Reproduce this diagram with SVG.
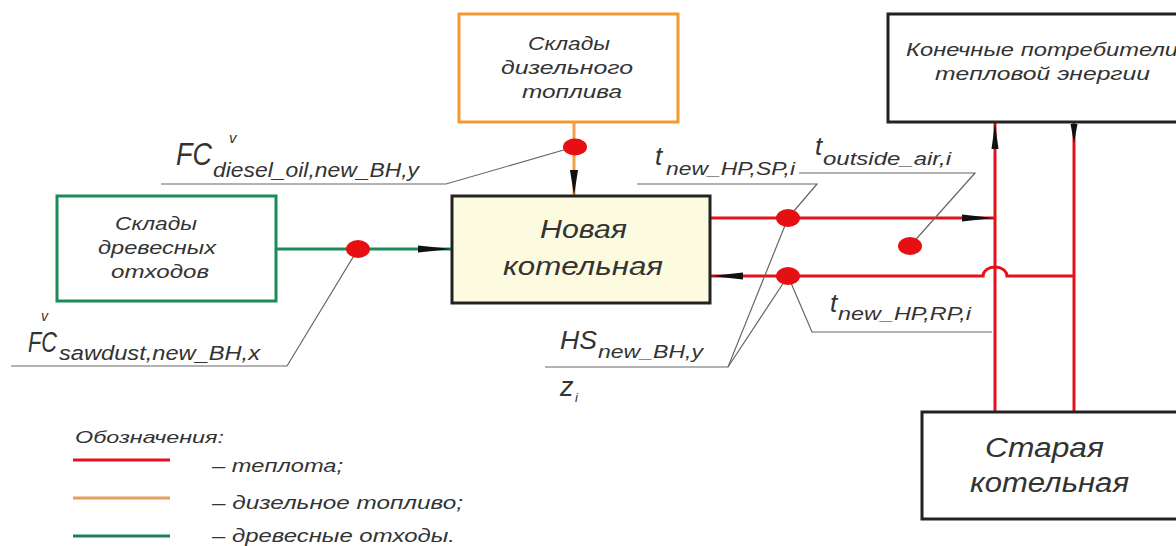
<svg xmlns="http://www.w3.org/2000/svg" width="1176" height="546" viewBox="0 0 1176 546">
<style>
.lbl{font-family:"Liberation Sans",Arial,sans-serif;font-style:italic;fill:#333}
.box{fill:#fff;stroke:#222;stroke-width:3}
.heat{stroke:#e3121b;stroke-width:3;fill:none}
.lead{stroke:#666;stroke-width:1.2;fill:none}
.dot{fill:#e60f14}
.ah{fill:#111}
</style>
<rect x="0" y="0" width="1176" height="546" fill="#fff"/>
<g id="connectors">
  <line x1="574" y1="122" x2="574" y2="196" stroke="#f0a04a" stroke-width="3"/>
  <line x1="276" y1="249" x2="452" y2="249" stroke="#1d8a5c" stroke-width="3"/>
  <line class="heat" x1="710" y1="218" x2="995" y2="218"/>
  <line class="heat" x1="995" y1="122" x2="995" y2="412"/>
  <line class="heat" x1="1074" y1="122" x2="1074" y2="412"/>
  <path class="heat" d="M1074,276 H1007 A12,9 0 0 0 983,276 H710"/>
  <polygon class="ah" points="574,196 570,170 578,170"/>
  <polygon class="ah" points="452,249 418,245.5 418,252.5"/>
  <polygon class="ah" points="994,218 962,214.5 962,221.5"/>
  <polygon class="ah" points="711,276 743,272.5 743,279.5"/>
  <polygon class="ah" points="995,123 991.5,149 998.5,149"/>
  <polygon class="ah" points="1074,143 1070.5,124 1077.5,124"/>
</g>
<g id="leaders">
  <polyline class="lead" points="161,184 446,184 574,147"/>
  <polyline class="lead" points="11,366 287,366 358,249"/>
  <polyline class="lead" points="637,184 817,184 788,218"/>
  <polyline class="lead" points="799,173 975,173 910,246"/>
  <polyline class="lead" points="545,367 728,367 788,218"/>
  <line class="lead" x1="728" y1="367" x2="788" y2="276"/>
  <polyline class="lead" points="788,276 812,332 992,332"/>
</g>
<g id="dots">
  <ellipse class="dot" cx="575" cy="147" rx="12" ry="8.5"/>
  <ellipse class="dot" cx="358" cy="249" rx="12" ry="9"/>
  <ellipse class="dot" cx="788" cy="218" rx="12" ry="9"/>
  <ellipse class="dot" cx="788" cy="276" rx="12" ry="9"/>
  <ellipse class="dot" cx="910" cy="246" rx="12" ry="9"/>
</g>
<g id="node-diesel-store">
  <rect x="459" y="14" width="219" height="108" fill="#fff" stroke="#f39a2e" stroke-width="3"/>
  <text class="lbl" x="528" y="50" font-size="19" textLength="82" lengthAdjust="spacingAndGlyphs">Склады</text>
  <text class="lbl" x="501" y="74" font-size="19" textLength="132" lengthAdjust="spacingAndGlyphs">дизельного</text>
  <text class="lbl" x="522" y="98" font-size="19" textLength="100" lengthAdjust="spacingAndGlyphs">топлива</text>
</g>
<g id="node-wood-store">
  <rect x="57" y="196" width="219" height="105" fill="#fff" stroke="#1d8a5c" stroke-width="3"/>
  <text class="lbl" x="115" y="230" font-size="19" textLength="82" lengthAdjust="spacingAndGlyphs">Склады</text>
  <text class="lbl" x="98" y="254" font-size="19" textLength="118" lengthAdjust="spacingAndGlyphs">древесных</text>
  <text class="lbl" x="111" y="278" font-size="19" textLength="98" lengthAdjust="spacingAndGlyphs">отходов</text>
</g>
<g id="node-new-bh">
  <rect x="452" y="196" width="258" height="107" fill="#fcfbe0" stroke="#222" stroke-width="3"/>
  <text class="lbl" x="540" y="238" font-size="26" textLength="87" lengthAdjust="spacingAndGlyphs">Новая</text>
  <text class="lbl" x="503" y="275" font-size="26" textLength="160" lengthAdjust="spacingAndGlyphs">котельная</text>
</g>
<g id="node-consumers">
  <rect class="box" x="888" y="14" width="310" height="108"/>
  <text class="lbl" x="906" y="56" font-size="19" textLength="272" lengthAdjust="spacingAndGlyphs">Конечные потребители</text>
  <text class="lbl" x="935" y="80" font-size="19" textLength="215" lengthAdjust="spacingAndGlyphs">тепловой энергии</text>
</g>
<g id="node-old-bh">
  <rect class="box" x="922" y="412" width="276" height="107"/>
  <text class="lbl" x="985" y="457" font-size="27" textLength="119" lengthAdjust="spacingAndGlyphs">Старая</text>
  <text class="lbl" x="970" y="492" font-size="27" textLength="159" lengthAdjust="spacingAndGlyphs">котельная</text>
</g>
<g id="labels">
  <text class="lbl" x="176" y="165" font-size="32" textLength="36" lengthAdjust="spacingAndGlyphs">FC</text>
  <text class="lbl" x="213" y="177" font-size="20" textLength="206" lengthAdjust="spacingAndGlyphs">diesel_oil,new_BH,y</text>
  <text class="lbl" x="229" y="143" font-size="15">v</text>
  <text class="lbl" x="28" y="352" font-size="30" textLength="29" lengthAdjust="spacingAndGlyphs">FC</text>
  <text class="lbl" x="59" y="360" font-size="20" textLength="201" lengthAdjust="spacingAndGlyphs">sawdust,new_BH,x</text>
  <text class="lbl" x="41" y="321" font-size="14">v</text>
  <text class="lbl" x="655" y="165" font-size="26">t</text>
  <text class="lbl" x="666" y="175" font-size="19" textLength="129" lengthAdjust="spacingAndGlyphs">new_HP,SP,i</text>
  <text class="lbl" x="815" y="155" font-size="26">t</text>
  <text class="lbl" x="823" y="165" font-size="19" textLength="128" lengthAdjust="spacingAndGlyphs">outside_air,i</text>
  <text class="lbl" x="830" y="312" font-size="26">t</text>
  <text class="lbl" x="838" y="320" font-size="19" textLength="133" lengthAdjust="spacingAndGlyphs">new_HP,RP,i</text>
  <text class="lbl" x="560" y="349" font-size="25" textLength="37" lengthAdjust="spacingAndGlyphs">HS</text>
  <text class="lbl" x="598" y="358" font-size="19" textLength="105" lengthAdjust="spacingAndGlyphs">new_BH,y</text>
  <text class="lbl" x="560" y="396" font-size="27">z</text>
  <text class="lbl" x="575" y="402" font-size="13">i</text>
</g>
<g id="legend">
  <text class="lbl" x="75" y="443" font-size="17" textLength="149" lengthAdjust="spacingAndGlyphs">Обозначения:</text>
  <line x1="73" y1="460" x2="170" y2="460" stroke="#e3121b" stroke-width="3"/>
  <line x1="73" y1="498" x2="170" y2="498" stroke="#e0a060" stroke-width="3"/>
  <line x1="73" y1="536" x2="170" y2="536" stroke="#237e58" stroke-width="3"/>
  <text class="lbl" x="212" y="472" font-size="18" textLength="131" lengthAdjust="spacingAndGlyphs">– теплота;</text>
  <text class="lbl" x="212" y="509" font-size="18" textLength="251" lengthAdjust="spacingAndGlyphs">– дизельное топливо;</text>
  <text class="lbl" x="212" y="542" font-size="18" textLength="243" lengthAdjust="spacingAndGlyphs">– древесные отходы.</text>
</g>
</svg>
